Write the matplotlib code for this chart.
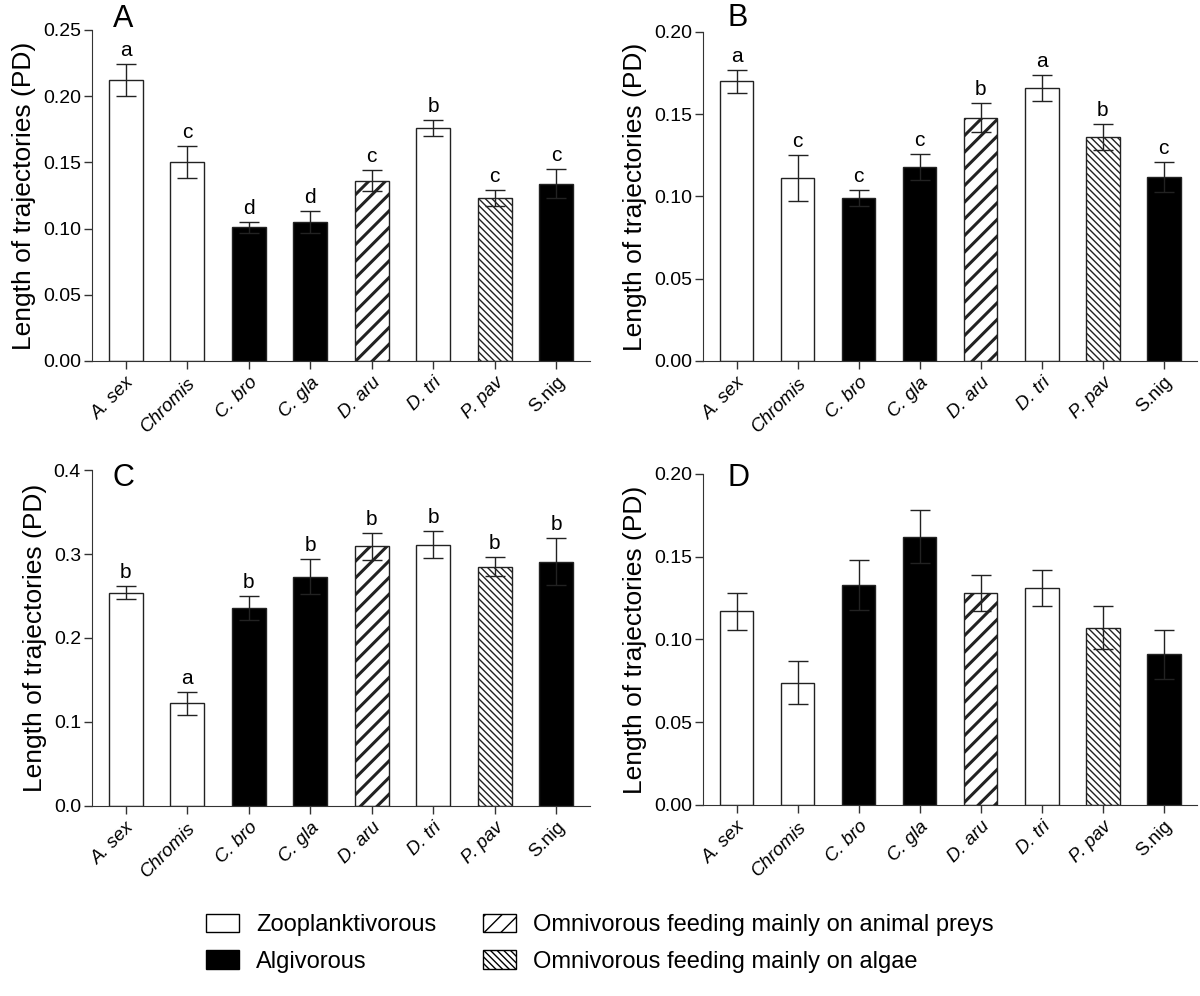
import matplotlib
matplotlib.use("Agg")
import matplotlib.pyplot as plt
from matplotlib.patches import Patch

plt.rcParams['font.family'] = ['Liberation Sans', 'DejaVu Sans']

species = ["A. sex", "Chromis", "C. bro", "C. gla", "D. aru", "D. tri", "P. pav", "S.nig"]
italic_labels = [True, True, True, True, True, True, True, False]
# feeding group per species: Z = zooplanktivorous, A = algivorous, OA = omni animal, OG = omni algae
groups = ["Z", "Z", "A", "A", "OA", "Z", "OG", "A"]

mean_a = [0.212, 0.150, 0.101, 0.105, 0.136, 0.176, 0.123, 0.134]
err_a = [0.012, 0.012, 0.004, 0.008, 0.008, 0.006, 0.006, 0.011]
let_a = ["a", "c", "d", "d", "c", "b", "c", "c"]

mean_b = [0.170, 0.111, 0.099, 0.118, 0.148, 0.166, 0.136, 0.112]
err_b = [0.007, 0.014, 0.005, 0.008, 0.009, 0.008, 0.008, 0.009]
let_b = ["a", "c", "c", "c", "b", "a", "b", "c"]

mean_c = [0.254, 0.122, 0.236, 0.273, 0.309, 0.311, 0.285, 0.291]
err_c = [0.008, 0.014, 0.014, 0.021, 0.016, 0.016, 0.011, 0.028]
let_c = ["b", "a", "b", "b", "b", "b", "b", "b"]

mean_d = [0.117, 0.074, 0.133, 0.162, 0.128, 0.131, 0.107, 0.091]
err_d = [0.011, 0.013, 0.015, 0.016, 0.011, 0.011, 0.013, 0.015]
let_d = None

style = {
    "Z": dict(facecolor="white", hatch=None),
    "A": dict(facecolor="black", hatch=None),
    "OA": dict(facecolor="white", hatch="//"),
    "OG": dict(facecolor="white", hatch="\\\\\\\\\\"),
}
legend_names = {
    "Z": "Zooplanktivorous",
    "A": "Algivorous",
    "OA": "Omnivorous feeding mainly on animal preys",
    "OG": "Omnivorous feeding mainly on algae",
}

fig = plt.figure(figsize=(12, 9.96), dpi=100)

# axes rectangles in figure fraction (left, bottom, width, height)
panels = [
    ("A", mean_a, err_a, let_a, [0.0767, 0.6376, 0.415, 0.3323], 0.25, [0, 0.05, 0.10, 0.15, 0.20, 0.25], "%.2f", (0.094, 0.981)),
    ("B", mean_b, err_b, let_b, [0.5858, 0.6376, 0.412, 0.3303], 0.20, [0, 0.05, 0.10, 0.15, 0.20], "%.2f", (0.606, 0.982)),
    ("C", mean_c, err_c, let_c, [0.0767, 0.1908, 0.415, 0.3373], 0.4, [0, 0.1, 0.2, 0.3, 0.4], "%.1f", (0.094, 0.520)),
    ("D", mean_d, err_d, let_d, [0.5858, 0.1918, 0.412, 0.3323], 0.20, [0, 0.05, 0.10, 0.15, 0.20], "%.2f", (0.606, 0.520)),
]

spine_col = "#333333"
x = list(range(len(species)))

for name, means, errs, letters, pos, ymax, yticks, fmt, lpos in panels:
    ax = fig.add_axes(pos)
    for i in x:
        st = style[groups[i]]
        b = ax.bar(i, means[i], width=0.55, facecolor=st["facecolor"], edgecolor="#222222",
                   linewidth=1.0, hatch=st["hatch"], zorder=2)
        if groups[i] == "OA":
            try:
                b[0].set_hatch_linewidth(2.2)
            except AttributeError:
                pass
        elif groups[i] == "OG":
            try:
                b[0].set_hatch_linewidth(1.0)
            except AttributeError:
                pass
    ax.errorbar(x, means, yerr=errs, fmt="none", ecolor="#222222", elinewidth=1.0,
                capsize=7, capthick=1.0, zorder=3)
    if letters:
        for i in x:
            ax.annotate(letters[i], (i, means[i] + errs[i]), xytext=(0, 3),
                        textcoords="offset points", ha="center", va="bottom", fontsize=15)
    ax.set_xlim(-0.55, 7.55)
    ax.set_ylim(0, ymax)
    ax.set_yticks(yticks)
    ax.set_yticklabels([fmt % v for v in yticks], fontsize=14)
    ax.set_xticks(x)
    ax.set_xticklabels(species, rotation=45, ha="right", rotation_mode="anchor", fontsize=13.5)
    for lab, it in zip(ax.get_xticklabels(), italic_labels):
        lab.set_style("italic" if it else "normal")
    ax.spines["top"].set_visible(False)
    ax.spines["right"].set_visible(False)
    ax.spines["left"].set_color(spine_col)
    ax.spines["bottom"].set_color(spine_col)
    ax.tick_params(axis="both", direction="out", length=6, color=spine_col, width=1.0)
    ax.tick_params(axis="y", pad=2)
    ax.set_ylabel("Length of trajectories (PD)", fontsize=19, labelpad=5)
    fig.text(lpos[0], lpos[1], name, fontsize=22, ha="left", va="center")

handles = []
for g in ["Z", "A", "OA", "OG"]:
    st = style[g]
    p = Patch(facecolor=st["facecolor"], edgecolor="black", hatch=st["hatch"], linewidth=1.0,
              label=legend_names[g])
    handles.append(p)

fig.legend(handles=handles, loc="center", bbox_to_anchor=(0.5, 0.053), ncol=2, frameon=False,
           fontsize=17, handlelength=1.4, handleheight=0.85, handletextpad=0.72,
           columnspacing=2.0, labelspacing=0.6)

plt.savefig("out.png", dpi=100)
